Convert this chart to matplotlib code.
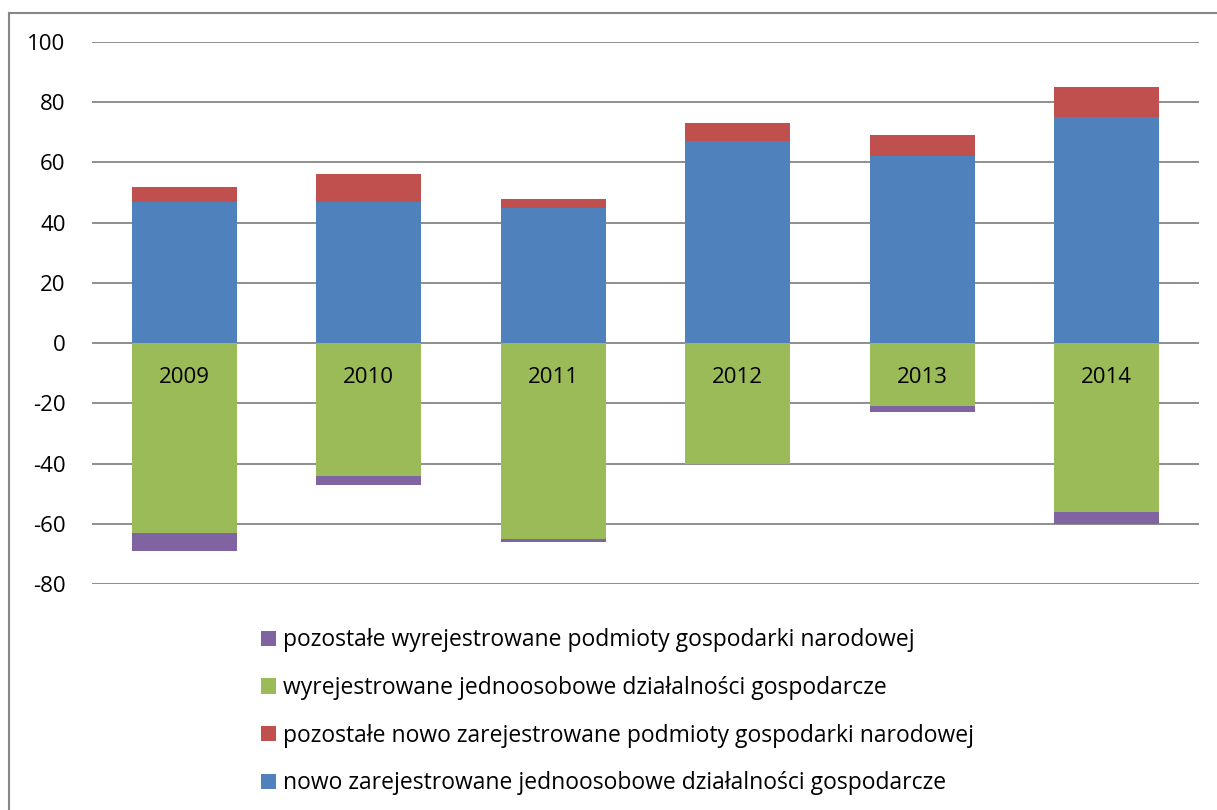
import matplotlib
matplotlib.use("Agg")
import matplotlib.pyplot as plt
from matplotlib.lines import Line2D
import numpy as np

years = ["2009", "2010", "2011", "2012", "2013", "2014"]
new_sole = [47, 47, 45, 67, 62, 75]
new_other = [5, 9, 3, 6, 7, 10]
del_sole = [-63, -44, -65, -40, -21, -56]
del_other = [-6, -3, -1, 0, -2, -4]

labels = [
    "nowo zarejestrowane jednoosobowe działalności gospodarcze",
    "pozostałe nowo zarejestrowane podmioty gospodarki narodowej",
    "wyrejestrowane jednoosobowe działalności gospodarcze",
    "pozostałe wyrejestrowane podmioty gospodarki narodowej",
]
colors = ["#4F81BD", "#C0504D", "#9BBB59", "#8064A2"]

plt.rcParams['font.family'] = ['Open Sans', 'DejaVu Sans']
plt.rcParams['axes.unicode_minus'] = False

fig = plt.figure(figsize=(12.17, 8.10), dpi=100)
ax = fig.add_axes([92 / 1217, 1 - 584 / 810, (1199 - 92) / 1217, (584 - 42) / 810])

x = np.arange(len(years))
w = 0.57
b1 = ax.bar(x, new_sole, w, color=colors[0], zorder=3)
b2 = ax.bar(x, new_other, w, bottom=new_sole, color=colors[1], zorder=3)
b3 = ax.bar(x, del_sole, w, color=colors[2], zorder=3)
b4 = ax.bar(x, del_other, w, bottom=del_sole, color=colors[3], zorder=3)

ax.set_xlim(-0.5, len(years) - 0.5)
ax.set_ylim(-80, 100)
ax.set_yticks(range(-80, 101, 20))
ax.yaxis.grid(True, color="#868686", linewidth=1.3, zorder=0)
ax.set_axisbelow(True)
for s in ax.spines.values():
    s.set_visible(False)
ax.tick_params(axis="y", length=0, pad=19, labelsize=16)
ax.set_xticks([])

# year labels sit inside the bars just under the zero line
for xi, yr in zip(x, years):
    ax.text(xi, -11.5, yr, ha="center", va="center", fontsize=16, zorder=4)

fig.legend([b4, b3, b2, b1], labels[::-1], loc="upper left",
           bbox_to_anchor=(250 / 1217, 1 - 617 / 810), frameon=False,
           fontsize=16.5, handlelength=0.65, handleheight=0.65, handletextpad=0.3,
           labelspacing=1.03, borderpad=0)

fig.add_artist(Line2D([8.5 / 1217, 1], [1 - 12.5 / 810] * 2, color="#868686", linewidth=1.5))
fig.add_artist(Line2D([8.5 / 1217] * 2, [0, 1 - 12.5 / 810], color="#868686", linewidth=1.5))

fig.savefig("out.png", dpi=100)
